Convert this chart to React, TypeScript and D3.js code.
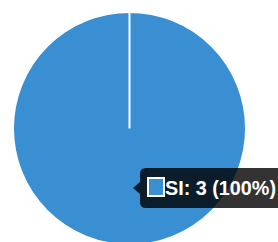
import { useRef, useEffect } from 'react';
import * as d3 from 'd3';

// data
const labels = ['SI'];
const values = [3];
const colors = ['#398fd1'];

const W = 278;
const H = 242;

const App = () => {
  const ref = useRef<SVGSVGElement>(null);

  useEffect(() => {
    const svg = d3.select(ref.current);
    svg.selectAll('*').remove();

    const cx = 129.5;
    const cy = 128.5;
    const r = 116.5;

    const pie = d3.pie<number>().sort(null)(values);
    const arc = d3.arc<d3.PieArcDatum<number>>().innerRadius(0).outerRadius(r);

    const g = svg.append('g').attr('transform', `translate(${cx},${cy})`);

    g.selectAll('path.slice')
      .data(pie)
      .enter()
      .append('path')
      .attr('class', 'slice')
      .attr('d', (d) => arc(d))
      .attr('fill', (_, i) => colors[i])
      .attr('stroke', '#fff')
      .attr('stroke-width', 2);

    // slice borders from the centre (chart.js style)
    g.selectAll('line.edge')
      .data(pie)
      .enter()
      .append('line')
      .attr('class', 'edge')
      .attr('x1', 0)
      .attr('y1', 0)
      .attr('x2', (d) => r * Math.sin(d.startAngle))
      .attr('y2', (d) => -r * Math.cos(d.startAngle))
      .attr('stroke', '#fff')
      .attr('stroke-width', 2);

    // tooltip
    const total = d3.sum(values);
    const tip = svg.append('g');
    const bx = 140, by = 168, bh = 40, bw = 160, rr = 6;
    const ay = by + bh / 2;
    const p = d3.path();
    p.moveTo(bx + rr, by);
    p.lineTo(bx + bw, by);
    p.lineTo(bx + bw, by + bh);
    p.lineTo(bx + rr, by + bh);
    p.quadraticCurveTo(bx, by + bh, bx, by + bh - rr);
    p.lineTo(bx, ay + 6);
    p.lineTo(bx - 7, ay);
    p.lineTo(bx, ay - 6);
    p.lineTo(bx, by + rr);
    p.quadraticCurveTo(bx, by, bx + rr, by);
    p.closePath();
    tip.append('path').attr('d', p.toString()).attr('fill', 'rgba(0,0,0,0.8)');

    tip.append('rect')
      .attr('x', 148)
      .attr('y', 178)
      .attr('width', 16)
      .attr('height', 18)
      .attr('fill', colors[0])
      .attr('stroke', '#fff')
      .attr('stroke-width', 2);

    tip.append('text')
      .attr('x', 165)
      .attr('y', 195)
      .attr('fill', '#fff')
      .attr('font-family', 'Liberation Sans, Arial, sans-serif')
      .attr('font-weight', 'bold')
      .attr('font-size', 19.8)
      .text(`${labels[0]}: ${values[0]} (${Math.round((values[0] / total) * 100)}%)`);
  }, []);

  return (
    <svg
      ref={ref}
      width={W}
      height={H}
      style={{ position: 'absolute', left: 0, top: 0, background: '#fff' }}
    />
  );
};

export default App;
